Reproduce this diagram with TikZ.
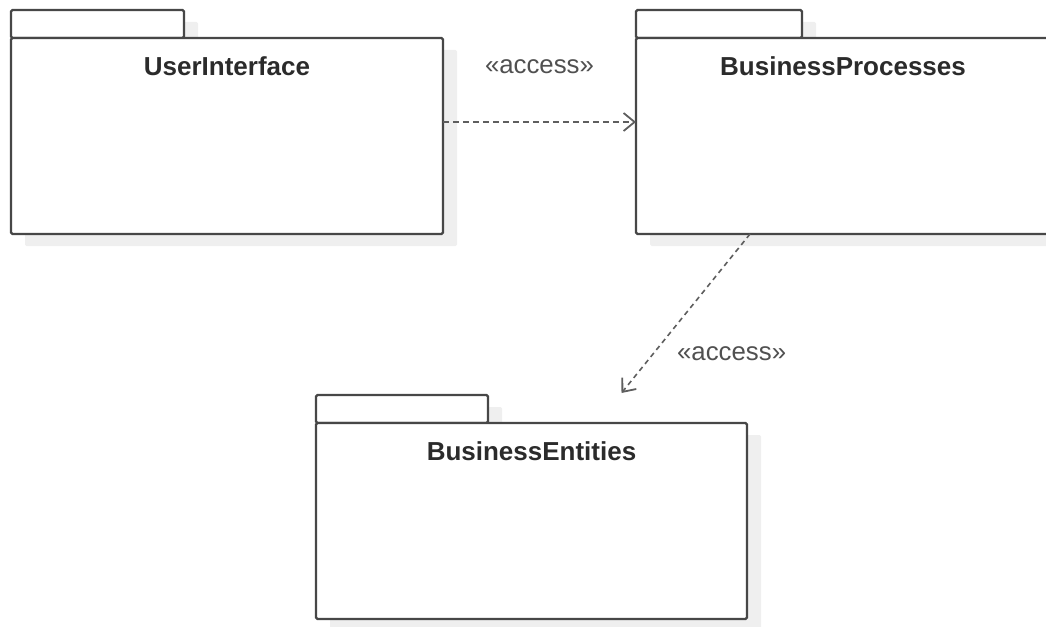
\documentclass[tikz,border=0pt]{standalone}
\usepackage{fontspec}
\setmainfont{Liberation Sans}
\usetikzlibrary{arrows.meta,positioning,calc,shadows}
\definecolor{ink}{HTML}{2B2B2B}
\definecolor{edgeGrey}{HTML}{474747}
\definecolor{dashGrey}{HTML}{5E5E5E}
\definecolor{labGrey}{HTML}{505050}
\definecolor{shadeGrey}{HTML}{EFEFEF}
\tikzset{>={Straight Barb[length=11pt,width=18pt,line width=1.8pt]},
  pkgshade/.style={drop shadow={shadow xshift=14pt,shadow yshift=-12pt,fill=shadeGrey,opacity=1}},
  pkg/.style={draw=edgeGrey,fill=white,line width=2.2pt,rounded corners=1.5pt,inner sep=0pt,outer sep=0pt,
    minimum width=432pt,minimum height=196pt,anchor=north west,pkgshade},
  pkgtab/.style={draw=edgeGrey,fill=white,line width=2.2pt,rounded corners=1.5pt,inner sep=0pt,outer sep=0pt,
    minimum height=28pt,anchor=north west,pkgshade},
  pname/.style={font=\fontsize{26}{31}\selectfont\bfseries,text=ink},
  deplab/.style={font=\fontsize{25.8}{31}\selectfont,text=labGrey},
  dep/.style={->,dashGrey,line width=2.4pt,dash pattern=on 6pt off 4pt}}

\begin{document}
\begin{tikzpicture}[x=1pt,y=-1pt]
\clip (0,0) rectangle (1046,626);
% packages
\node[pkgtab,minimum width=173pt] (uiTab) at (11,10) {};
\node[pkg] (ui) at (uiTab.south west) {};
\node[pname] (uiName) at ([yshift=-28pt]ui.north) {UserInterface};
\node[pkgtab,minimum width=166pt] (bpTab) at (636,10) {};
\node[pkg,minimum width=414pt] (bp) at (bpTab.south west) {};
\node[pname] (bpName) at ([yshift=-28pt]bp.north) {BusinessProcesses};
\node[pkgtab,minimum width=172pt] (beTab) at (316,395) {};
\node[pkg,minimum width=431pt] (be) at (beTab.south west) {};
\node[pname] (beName) at ([yshift=-28pt]be.north) {BusinessEntities};
\coordinate (beTip) at ([xshift=90pt,yshift=30pt]be.north);
% dependencies
\draw[dep] ([yshift=14pt]ui.east) -- node[deplab,midway,yshift=55pt] (accA) {«access»} ([yshift=14pt]bp.west);
\draw[dep,line width=1.6pt,dash pattern=on 5pt off 4pt] ([xshift=114pt]bp.south west) -- node[deplab,pos=0.75,xshift=78pt] (accB) {«access»} (beTip);
\end{tikzpicture}
\end{document}
